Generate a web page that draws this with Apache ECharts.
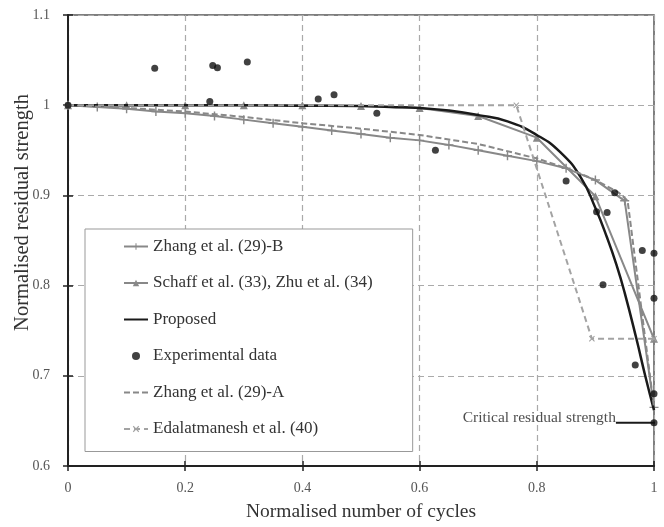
<!DOCTYPE html>
<html>
<head>
<meta charset="utf-8">
<script src="https://cdn.jsdelivr.net/npm/echarts@6/dist/echarts.min.js"></script>
<style>
  html, body { margin: 0; padding: 0; background: #fff; }
  #chart { width: 664px; height: 527px; }
</style>
</head>
<body>
<div id="chart"></div>
<script>
// Axis ranges and ticks
const xTickStep = 0.2;
const yTickStep = 0.1;
const xRange = [0, 1];
const yRange = [0.6, 1.1];

// Zhang et al. (29)-B  (markers every 0.05)
const zhangBX = [0, 0.05, 0.1, 0.15, 0.2, 0.25, 0.3, 0.35, 0.4, 0.45, 0.5, 0.55, 0.6, 0.65, 0.7, 0.75, 0.8, 0.85, 0.9, 0.95, 1.0];
const zhangBY = [1.0, 0.998, 0.996, 0.993, 0.991, 0.988, 0.984, 0.980, 0.976, 0.972, 0.968, 0.964, 0.961, 0.956, 0.950, 0.944, 0.938, 0.930, 0.917, 0.894, 0.665];

// Schaff et al. (33), Zhu et al. (34)
const schaffX = [0, 0.1, 0.2, 0.3, 0.4, 0.5, 0.6, 0.7, 0.8, 0.9, 1.0];
const schaffY = [1.0, 1.0, 1.0, 1.0, 1.0, 0.999, 0.997, 0.988, 0.964, 0.899, 0.741];

// Proposed model
const proposedX = [0, 0.1, 0.2, 0.3, 0.4, 0.5, 0.55, 0.6, 0.65, 0.7, 0.75, 0.8, 0.84, 0.875, 0.9, 0.92, 0.936, 0.95, 0.97, 0.985, 1.0];
const proposedY = [1.0, 1.0, 1.0, 1.0, 0.9995, 0.999, 0.998, 0.997, 0.994, 0.989, 0.982, 0.967, 0.948, 0.920, 0.886, 0.853, 0.823, 0.792, 0.741, 0.700, 0.662];

// Experimental data
const expX = [0, 0.148, 0.242, 0.247, 0.255, 0.306, 0.427, 0.454, 0.527, 0.627, 0.850, 0.902, 0.920, 0.933, 0.913, 0.968, 0.980, 1.0, 1.0, 1.0, 1.0];
const expY = [1.0, 1.041, 1.004, 1.044, 1.0415, 1.048, 1.007, 1.0115, 0.991, 0.950, 0.916, 0.882, 0.881, 0.903, 0.801, 0.712, 0.839, 0.836, 0.786, 0.680, 0.648];

// Zhang et al. (29)-A
const zhangAX = [0, 0.1, 0.2, 0.3, 0.4, 0.5, 0.6, 0.7, 0.8, 0.86, 0.9, 0.94, 0.955, 1.0];
const zhangAY = [1.0, 0.997, 0.993, 0.987, 0.980, 0.974, 0.967, 0.957, 0.941, 0.928, 0.917, 0.903, 0.894, 0.665];

// Edalatmanesh et al. (40)
const edalX = [0, 0.765, 0.894, 1.0];
const edalY = [1.0, 1.0, 0.741, 0.741];

// Critical residual strength level
const critX = [0.935, 1.015];
const critY = 0.648;
const critText = 'Critical residual strength';

const seriesNames = [
  'Zhang et al. (29)-B',
  'Schaff et al. (33), Zhu et al. (34)',
  'Proposed',
  'Experimental data',
  'Zhang et al. (29)-A',
  'Edalatmanesh et al. (40)'
];

const pairs = (xs, ys) => xs.map((x, i) => [x, ys[i]]);

const FONT = "'Liberation Serif', 'Times New Roman', serif";
const GREY = '#888888';

const plusPath = 'path://M4.2,0 H5.8 V4.2 H10 V5.8 H5.8 V10 H4.2 V5.8 H0 V4.2 H4.2 Z';
const crossPath = 'path://M0,1.3 L1.3,0 L5,3.7 L8.7,0 L10,1.3 L6.3,5 L10,8.7 L8.7,10 L5,6.3 L1.3,10 L0,8.7 L3.7,5 Z';

const chart = echarts.init(document.getElementById('chart'), null, { renderer: 'canvas' });

const option = {
  animation: false,
  backgroundColor: '#ffffff',
  grid: {
    left: 68, right: 10, top: 15, bottom: 53,
    show: true, borderColor: '#555', borderWidth: 1.5, backgroundColor: 'transparent'
  },
  xAxis: [
    {
      type: 'value', min: xRange[0], max: xRange[1], interval: xTickStep,
      name: 'Normalised number of cycles', nameLocation: 'middle', nameGap: 36,
      nameMoveOverlap: false,
      nameTextStyle: { fontFamily: FONT, fontSize: 19.5, color: '#333' },
      axisLine: { show: true, lineStyle: { color: '#222', width: 2 } },
      axisTick: { show: true, length: 5, lineStyle: { color: '#222', width: 1.5 } },
      axisLabel: { fontFamily: FONT, fontSize: 14, color: '#555', margin: 15 },
      splitLine: { show: true, lineStyle: { color: '#aaa', width: 1.2, type: [6, 4] } }
    },
    {
      type: 'value', min: xRange[0], max: xRange[1], interval: xTickStep, position: 'bottom',
      axisLine: { show: false },
      axisTick: { show: true, inside: true, length: 5, lineStyle: { color: '#222', width: 1.5 } },
      axisLabel: { show: false }, splitLine: { show: false }
    }
  ],
  yAxis: [
    {
      type: 'value', min: yRange[0], max: yRange[1], interval: yTickStep,
      name: 'Normalised residual strength', nameLocation: 'middle', nameGap: 35,
      nameMoveOverlap: false,
      nameTextStyle: { fontFamily: FONT, fontSize: 20.5, color: '#333', padding: [0, 0, 0, 56] },
      axisLine: { show: true, lineStyle: { color: '#222', width: 2 } },
      axisTick: { show: true, length: 5, lineStyle: { color: '#222', width: 1.5 } },
      axisLabel: { fontFamily: FONT, fontSize: 14, color: '#555', margin: 18 },
      splitLine: { show: true, lineStyle: { color: '#aaa', width: 1.2, type: [6, 4] } }
    },
    {
      type: 'value', min: yRange[0], max: yRange[1], interval: yTickStep, position: 'left',
      axisLine: { show: false },
      axisTick: { show: true, inside: true, length: 5, lineStyle: { color: '#222', width: 1.5 } },
      axisLabel: { show: false }, splitLine: { show: false }
    }
  ],
  legend: {
    orient: 'vertical', left: 85, top: 229,
    data: [
      { name: seriesNames[0] },
      { name: seriesNames[1] },
      { name: seriesNames[2], itemStyle: { opacity: 0 } },
      { name: seriesNames[3] },
      { name: seriesNames[4], itemStyle: { opacity: 0 } },
      { name: seriesNames[5] }
    ],
    backgroundColor: '#ffffff', borderColor: '#999', borderWidth: 1,
    padding: [9, 40, 14, 38],
    itemWidth: 24, itemHeight: 8, itemGap: 19.5,
    textStyle: { fontFamily: FONT, fontSize: 17, color: '#333' },
    selectedMode: false
  },
  series: [
    {
      name: seriesNames[0], type: 'line', data: pairs(zhangBX, zhangBY),
      symbol: plusPath, symbolSize: 9, showAllSymbol: true,
      lineStyle: { color: GREY, width: 2 }, itemStyle: { color: GREY }, z: 3
    },
    {
      name: seriesNames[1], type: 'line', data: pairs(schaffX, schaffY),
      symbol: 'triangle', symbolSize: 8, showAllSymbol: true,
      lineStyle: { color: GREY, width: 2 }, itemStyle: { color: GREY }, z: 3
    },
    {
      name: seriesNames[2], type: 'line', data: pairs(proposedX, proposedY),
      symbol: 'none', smooth: 0.5,
      lineStyle: { color: '#1a1a1a', width: 2.5 }, itemStyle: { color: '#1a1a1a' }, z: 4
    },
    {
      name: seriesNames[3], type: 'scatter', data: pairs(expX, expY),
      symbol: 'circle', symbolSize: 7, clip: false,
      itemStyle: { color: '#111' }, z: 6
    },
    {
      name: seriesNames[4], type: 'line', data: pairs(zhangAX, zhangAY),
      symbol: 'none',
      lineStyle: { color: GREY, width: 2, type: [6, 3] }, itemStyle: { color: GREY }, z: 4
    },
    {
      name: seriesNames[5], type: 'line', data: pairs(edalX, edalY),
      symbol: crossPath, symbolSize: 6, showAllSymbol: true,
      lineStyle: { color: '#a3a3a3', width: 2, type: [6, 4] }, itemStyle: { color: '#a3a3a3' }, z: 5
    },
    {
      name: 'critical', type: 'line', data: critX.map(x => [x, critY]),
      symbol: 'none', clip: false, silent: true,
      lineStyle: { color: '#1a1a1a', width: 2 }, z: 5
    },
    {
      name: 'criticalLabel', type: 'scatter', data: [[critX[0], critY]],
      symbolSize: 0, clip: false, silent: true,
      label: {
        show: true, position: 'left', distance: 0, offset: [0, -5],
        formatter: critText, fontFamily: FONT, fontSize: 15.5, color: '#222'
      },
      z: 5
    }
  ]
};

chart.setOption(option);
</script>
</body>
</html>
